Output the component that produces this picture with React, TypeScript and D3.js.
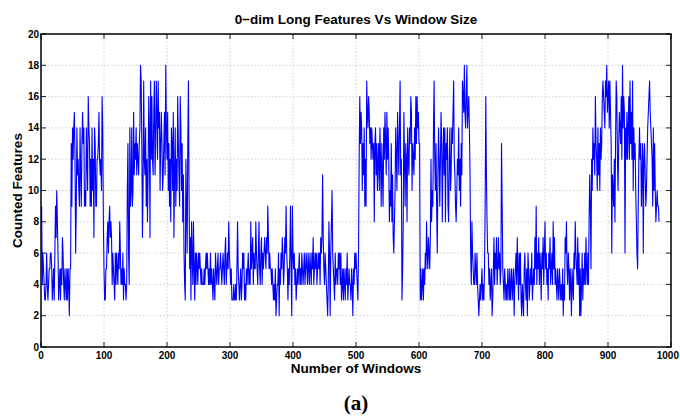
import * as React from 'react';
import * as d3 from 'd3';

// counted 0-dim long features per window in regime-sized chunks
const lowStart = [
    9, 4, 6, 5, 4, 3, 3, 4, 6, 4, 3, 4, 5, 5, 6, 6, 5, 3, 4, 5,
    3, 6, 9, 7, 10, 8, 6, 3, 4, 5,
    3, 5, 4, 7, 6, 4, 3, 5, 4, 3, 5, 3, 5, 4, 2, 5,
];
const highA = [
    5, 13, 9, 14, 12, 14, 15, 12, 6, 9, 14, 11, 12, 10,
    9, 14, 11, 9, 13, 15, 13, 14, 9, 10, 9, 14, 12, 10, 16, 14, 13, 9, 12, 9,
    14, 10, 12, 7, 14, 13, 9, 9, 12, 12, 13, 15, 12, 11, 12, 10, 16, 14, 8, 5,
];
const lowA = [
    3, 3, 5, 5, 7, 8, 6, 8, 9, 7, 8, 7, 4, 6, 5, 4, 3, 6, 4, 6,
    5, 4, 6, 5, 8, 6, 4, 5, 4, 6, 3, 5, 4, 4, 3, 4, 10,
];
const highB = [
    13, 6, 4, 14, 9, 10, 14, 9, 10, 15, 11, 13, 12, 14, 11, 13, 12, 11, 13, 14, 18, 17, 13,
    7, 10, 17, 12, 11, 14, 9, 12, 8, 11, 16, 14, 7, 17, 12, 16, 12, 11, 15, 17,
    11, 13, 17, 15, 12, 17, 14, 15, 10, 13, 15, 13, 10, 11, 13, 15, 11, 18, 14, 12,
    15, 10, 13, 9, 12, 8, 14, 13, 10, 15, 7, 11, 14, 9, 12, 10, 16, 13, 11, 9, 16, 14, 10, 13, 8,
    11, 6, 4, 3, 12, 9, 6, 13, 17, 10, 5, 7, 3, 8, 6,
];
const lowB = [
    4, 8, 5, 3, 6, 4, 6, 5, 4, 6, 5, 6, 5, 4, 5, 4, 4, 4, 5, 4,
    5, 6, 5, 6, 5, 4, 5, 4, 6, 4, 5, 4, 3, 5, 4, 3, 6, 5, 4, 5,
    6, 4, 5, 5, 6, 5, 4, 5, 6, 5, 4, 6, 7, 4, 5, 6, 5, 8, 6, 5,
    4, 5, 3, 3, 3, 4, 3, 3, 4, 3, 5, 8, 5, 4, 3, 4, 5, 3, 4, 6,
    5, 6, 3, 4, 3, 5, 4, 5, 6, 4, 5, 4, 8, 5, 6, 7, 4, 6, 5, 5,
    8, 6, 5, 4, 6, 8, 5, 4, 6, 7, 4, 6, 5, 6, 7, 6, 5, 7, 6, 9,
    7, 5, 6, 5, 5, 4, 5, 4, 3, 4, 3, 5, 2, 3, 4, 4, 6, 2, 5, 4,
    6, 5, 7, 6, 4, 5, 7, 6, 9, 6, 5, 3, 5, 4, 6, 9, 5, 2, 9, 6,
    5, 6, 4, 5, 3, 4, 5, 4, 5, 6, 4, 5, 4, 6, 5, 4, 5, 6, 4, 5,
    6, 5, 4, 6, 5, 4, 6, 5, 4, 6, 5, 7, 4, 5, 6, 5, 6, 4, 5, 6,
    5, 6, 4, 7, 6, 7, 11, 7, 5, 4, 6, 5, 4, 3, 2, 4, 8, 6, 2, 6,
    8, 10, 6, 5, 4, 3, 6, 4, 5, 5, 4, 6, 5, 6, 4, 6, 3, 4, 5, 3,
    5, 4, 3, 5, 4, 6, 3, 4, 5, 4, 4, 3, 5, 4, 2, 5, 4, 6, 5, 6,
];
const highC = [
    5, 4, 3, 6, 12, 16, 13, 15, 14, 10, 13, 11, 14, 9, 12, 9, 17, 15, 14, 16,
    15, 13, 14, 12, 14, 13, 12, 13, 8, 13, 14, 11, 13, 10, 12, 13, 10, 14, 12, 9,
    13, 11, 9, 14, 12, 15, 13, 11, 15, 12, 14, 12, 8, 10, 9, 13, 8, 11, 7, 6,
    8, 10, 14, 12, 10, 15, 13, 11, 14, 17, 11, 12, 3, 5, 8, 15, 12, 9, 13, 12,
    8, 14, 12, 11, 14, 13, 16, 15, 10, 13, 12, 11, 14, 12, 16, 13, 16, 14, 15, 13,
    13, 3, 5, 3, 4, 5, 3, 5, 4, 6, 5, 8, 6, 5, 7, 6, 5, 7, 12, 8,
    10, 9, 14, 17, 12, 10, 13, 9, 6, 11, 14, 12, 9, 12, 15, 13, 8, 12, 14, 11,
    14, 8, 13, 12, 14, 9, 8, 12, 14, 10, 11, 14, 13, 15, 17, 12, 11, 9, 8, 10,
    12, 11, 14, 10, 12, 9, 13, 11, 17, 16, 15, 18, 15, 14, 16, 18, 14, 15, 16, 14,
];
const lowC = [
    11, 6, 4, 8, 6, 5, 4, 4, 6, 5, 4, 6, 4, 3, 2, 3, 4, 3, 4, 5,
    3, 4, 3, 5, 9, 16, 11, 8, 6, 6, 4, 5, 3, 4, 5, 2, 3, 5, 7, 4,
    6, 5, 7, 4, 5, 7, 5, 6, 4, 5, 13, 9, 5, 4, 3, 5, 4, 3, 4, 3,
    5, 4, 3, 5, 3, 4, 5, 3, 4, 5, 2, 4, 5, 6, 4, 7, 5, 3, 6, 4,
    6, 3, 2, 4, 3, 2, 5, 6, 4, 3, 5, 2, 6, 5, 3, 4, 5, 4, 6, 3,
    4, 5, 4, 7, 5, 9, 4, 6, 5, 7, 4, 6, 5, 3, 6, 5, 7, 4, 6, 8,
    5, 6, 4, 5, 3, 6, 5, 7, 4, 5, 6, 4, 8, 5, 7, 4, 5, 4, 3, 5,
    4, 3, 5, 4, 3, 4, 3, 5, 2, 4, 3, 7, 6, 8, 5, 4, 6, 5, 3, 5,
    4, 2, 5, 4, 3, 6, 5, 8, 6, 5, 4, 7, 4, 6, 2, 5, 2, 4, 6, 3,
    5, 4, 6, 4, 7, 5, 4, 6, 4, 8,
];
const highD = [
    11, 9, 5, 12, 10, 14, 12, 13, 11, 16, 13, 12, 10, 14, 11, 13, 10, 14, 12, 13,
    16, 17, 16, 15, 14, 17, 16, 18, 15, 16, 17, 14, 17, 15, 13, 6, 11, 10, 9, 12,
    8, 13, 17, 16, 12, 10, 13, 15, 14, 13, 16, 12, 18, 14, 16, 15, 6, 14, 12, 15,
    12, 14, 16, 12, 17, 13, 15, 12, 17, 10, 14, 12, 13, 10, 8, 6, 5, 9, 12, 14,
    12, 13, 9, 11, 13, 6, 12, 13, 11, 9,
    10, 12, 14, 15, 16, 17, 15, 14, 13, 12, 9, 14, 10, 13, 10, 8, 9, 10, 9, 9, 8,
];

const counts = [...lowStart, ...highA, ...lowA, ...highB, ...lowB, ...highC, ...lowC, ...highD];

const xTicks = [0, 100, 200, 300, 400, 500, 600, 700, 800, 900, 1000];
const yTicks = [0, 2, 4, 6, 8, 10, 12, 14, 16, 18, 20];

const W = 680;
const H = 417;
const left = 41;
const right = 671;
const top = 34;
const bottom = 347;
const font = "'Liberation Sans', Arial, sans-serif";

const App: React.FunctionComponent = () => {
    const x = d3.scaleLinear().domain([0, 1000]).range([left, right]);
    const y = d3.scaleLinear().domain([0, 20]).range([bottom, top]);
    const line = d3.line<number>().x((d, i) => x(i + 1)).y(d => y(d));
    const tick = 5;

    return (
        <svg width={W} height={H} style={{ position: 'absolute', left: 0, top: 0, background: '#fff' }}>
            {/* grid */}
            <g stroke="#c4c4c4" strokeWidth={0.8} strokeDasharray="1.5,2">
                {xTicks.slice(1, -1).map(t => <line key={'gx' + t} x1={x(t)} x2={x(t)} y1={top} y2={bottom} />)}
                {yTicks.slice(1, -1).map(t => <line key={'gy' + t} x1={left} x2={right} y1={y(t)} y2={y(t)} />)}
            </g>
            <path d={line(counts) || ''} fill="none" stroke="#0000ff" strokeWidth={1.1} strokeLinejoin="round" />
            {/* ticks, inward on all four sides */}
            <g stroke="#222" strokeWidth={1}>
                {xTicks.map(t => <line key={'tb' + t} x1={x(t)} x2={x(t)} y1={bottom} y2={bottom - tick} />)}
                {xTicks.map(t => <line key={'tt' + t} x1={x(t)} x2={x(t)} y1={top} y2={top + tick} />)}
                {yTicks.map(t => <line key={'tl' + t} x1={left} x2={left + tick} y1={y(t)} y2={y(t)} />)}
                {yTicks.map(t => <line key={'tr' + t} x1={right} x2={right - tick} y1={y(t)} y2={y(t)} />)}
            </g>
            <rect x={left} y={top} width={right - left} height={bottom - top} fill="none" stroke="#000" strokeWidth={1.5} />
            <g fontFamily={font} fontWeight="bold" fontSize={10} fill="#000">
                {xTicks.map(t => (
                    t === 1000
                        ? <text key={'lx' + t} x={W - 1} y={bottom + 12} textAnchor="end">{t}</text>
                        : <text key={'lx' + t} x={x(t)} y={bottom + 12} textAnchor="middle">{t}</text>
                ))}
                {yTicks.map(t => (
                    <text key={'ly' + t} x={left - 2} y={y(t) + 3.5} textAnchor="end">{t}</text>
                ))}
            </g>
            <text x={(left + right) / 2} y={24} textAnchor="middle" fontFamily={font} fontWeight="bold" fontSize={13.5}>
                0−dim Long Features Vs Window Size
            </text>
            <text x={(left + right) / 2} y={373} textAnchor="middle" fontFamily={font} fontWeight="bold" fontSize={13.5}>
                Number of Windows
            </text>
            <text transform={`translate(22,${(top + bottom) / 2}) rotate(-90)`} textAnchor="middle" fontFamily={font} fontWeight="bold" fontSize={13.5}>
                Counted Features
            </text>
            <text x={(left + right) / 2} y={410} textAnchor="middle" fontFamily="'Liberation Serif', 'DejaVu Serif', serif" fontWeight="bold" fontSize={21}>
                (a)
            </text>
        </svg>
    );
};

export default App;
